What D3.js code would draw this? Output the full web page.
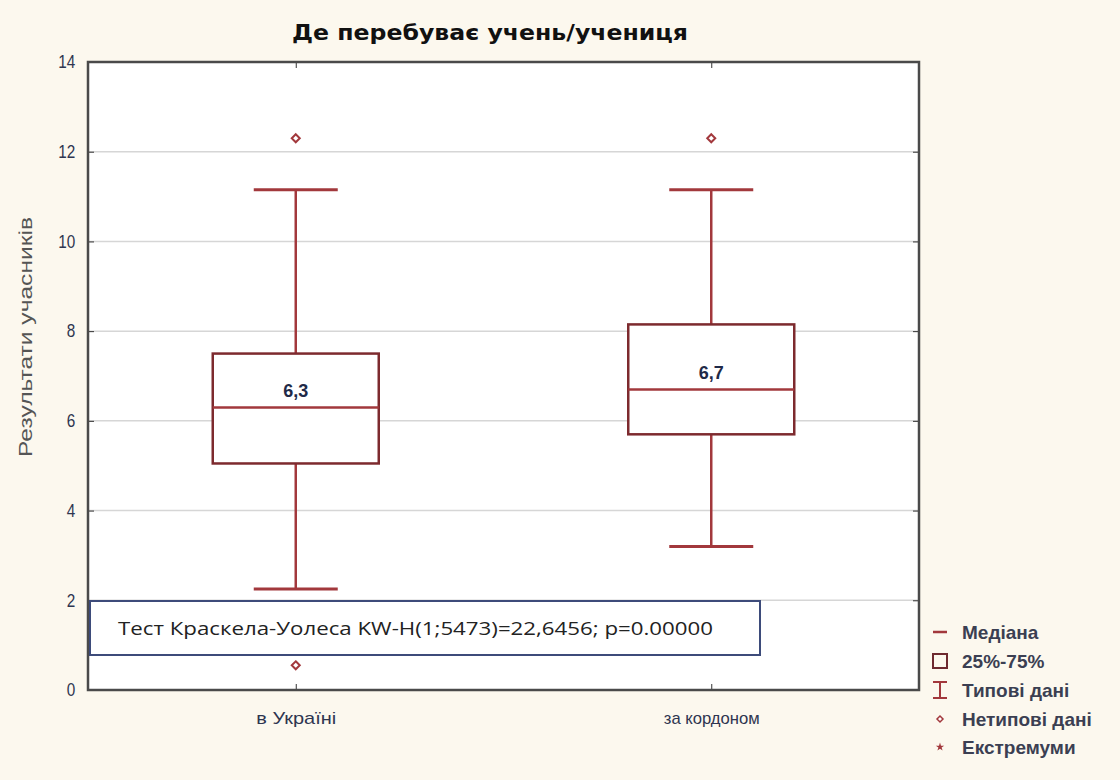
<!DOCTYPE html>
<meta charset="utf-8">
<style>
	body { margin: 0; background: #fcf8ee; }
	svg { display: block; }
</style>
<svg width="1120" height="780"></svg>
<script src="https://d3js.org/d3.v7.min.js"></script>
<script>
	// дані
	var categories = ['в Україні', 'за кордоном']
	var medians = [6.3, 6.7]
	var q1 = [5.05, 5.7]
	var q3 = [7.5, 8.15]
	var whiskLow = [2.25, 3.2]
	var whiskHigh = [11.15, 11.15]
	var outliers = [[12.3, 0.55], [12.3]]
	var yTicks = [0, 2, 4, 6, 8, 10, 12, 14]
	var legendItems = ['Медіана', '25%-75%', ' Типові дані', 'Нетипові дані', 'Екстремуми']

	var svg = d3.select('svg'),
		margin = { top: 62, right: 201, bottom: 90, left: 88 },
		width = +svg.attr('width') - margin.left - margin.right,
		height = +svg.attr('height') - margin.top - margin.bottom

	svg.append('rect').attr('width', 1120).attr('height', 780).attr('fill', '#fcf8ee')

	var g = svg.append('g').attr('transform', 'translate(' + margin.left + ',' + margin.top + ')')

	var x = d3.scalePoint().domain(categories).range([0, width]).padding(0.5),
		y = d3.scaleLinear().domain([0, 14]).range([height, 0])

	g.append('rect').attr('width', width).attr('height', height).attr('fill', '#fff')

	// сітка
	g.selectAll('.grid').data(yTicks.slice(1, -1)).enter().append('line')
		.attr('x1', 0).attr('x2', width)
		.attr('y1', d => y(d)).attr('y2', d => y(d))
		.attr('stroke', '#d6d6d6').attr('stroke-width', 1.5)

	// осі
	var yAxis = g.append('g').call(d3.axisLeft(y).tickValues(yTicks).tickSize(-6).tickPadding(13).tickFormat(d3.format('d')))
	yAxis.select('.domain').remove()
	yAxis.selectAll('.tick line').attr('stroke', '#333')
	yAxis.selectAll('.tick text').style('font-family', '"Liberation Sans", sans-serif')
		.style('font-size', '18px').attr('fill', '#2e3550')
		.attr('transform', 'scale(0.85,1)').attr('x', -15)
	var yAxisR = g.append('g').attr('transform', 'translate(' + width + ',0)')
		.call(d3.axisRight(y).tickValues(yTicks).tickSize(-6).tickFormat(''))
	yAxisR.select('.domain').remove()
	yAxisR.selectAll('.tick line').attr('stroke', '#333')

	var xAxis = g.append('g').attr('transform', 'translate(0,' + height + ')')
		.call(d3.axisBottom(x).tickSize(-6).tickPadding(22))
	xAxis.select('.domain').remove()
	xAxis.selectAll('.tick line').attr('stroke', '#333')
	xAxis.selectAll('.tick text').style('font-family', '"Liberation Sans", sans-serif')
		.style('font-size', '17px').attr('fill', '#2e3550')
		.attr('textLength', (d, i) => [80, 96][i]).attr('lengthAdjust', 'spacingAndGlyphs')
	var xAxisT = g.append('g').call(d3.axisTop(x).tickSize(-6).tickFormat(''))
	xAxisT.select('.domain').remove()
	xAxisT.selectAll('.tick line').attr('stroke', '#333')

	g.append('rect').attr('width', width).attr('height', height)
		.attr('fill', 'none').attr('stroke', '#4a4a4a').attr('stroke-width', 2.5)

	// бокси
	var boxW = 166, capW = 84
	var boxes = g.selectAll('.box').data(categories).enter().append('g')
		.attr('transform', d => 'translate(' + x(d) + ',0)')

	boxes.append('line').attr('x1', 0).attr('x2', 0)
		.attr('y1', (d, i) => y(whiskHigh[i])).attr('y2', (d, i) => y(q3[i]))
		.attr('stroke', '#a2383c').attr('stroke-width', 2.5)
	boxes.append('line').attr('x1', 0).attr('x2', 0)
		.attr('y1', (d, i) => y(q1[i])).attr('y2', (d, i) => y(whiskLow[i]))
		.attr('stroke', '#a2383c').attr('stroke-width', 2.5)
	boxes.append('line').attr('x1', -capW / 2).attr('x2', capW / 2)
		.attr('y1', (d, i) => y(whiskHigh[i])).attr('y2', (d, i) => y(whiskHigh[i]))
		.attr('stroke', '#a2383c').attr('stroke-width', 3)
	boxes.append('line').attr('x1', -capW / 2).attr('x2', capW / 2)
		.attr('y1', (d, i) => y(whiskLow[i])).attr('y2', (d, i) => y(whiskLow[i]))
		.attr('stroke', '#a2383c').attr('stroke-width', 3)
	boxes.append('rect')
		.attr('x', -boxW / 2).attr('width', boxW)
		.attr('y', (d, i) => y(q3[i])).attr('height', (d, i) => y(q1[i]) - y(q3[i]))
		.attr('fill', '#fff').attr('stroke', '#7d2a2e').attr('stroke-width', 2.5)
	boxes.append('line').attr('x1', -boxW / 2).attr('x2', boxW / 2)
		.attr('y1', (d, i) => y(medians[i])).attr('y2', (d, i) => y(medians[i]))
		.attr('stroke', '#a2383c').attr('stroke-width', 2.5)
	boxes.append('text')
		.attr('y', (d, i) => y(medians[i]) - 10)
		.attr('text-anchor', 'middle')
		.style('font-family', '"Liberation Sans", sans-serif')
		.style('font-size', '18px').style('font-weight', 'bold').attr('fill', '#1f2a48')
		.text((d, i) => d3.format('.1f')(medians[i]).replace('.', ','))

	// нетипові дані
	var outData = []
	outliers.forEach((arr, i) => arr.forEach(v => outData.push({ c: categories[i], v: v })))
	g.selectAll('.out').data(outData).enter().append('path')
		.attr('transform', d => 'translate(' + x(d.c) + ',' + y(d.v) + ')')
		.attr('d', 'M0,-4L4,0L0,4L-4,0Z')
		.attr('fill', '#fff').attr('stroke', '#a2383c').attr('stroke-width', 2)

	// текст тесту
	svg.append('rect').attr('x', 90).attr('y', 601).attr('width', 670).attr('height', 54)
		.attr('fill', '#fff').attr('stroke', '#3d4b7a').attr('stroke-width', 2)
	svg.append('text').attr('x', 118).attr('y', 635)
		.style('font-family', '"Open Sans", sans-serif').style('font-size', '19px').attr('fill', '#222')
		.attr('textLength', 595).attr('lengthAdjust', 'spacingAndGlyphs')
		.text('Тест Краскела-Уолеса KW-H(1;5473)=22,6456; p=0.00000')

	// заголовок
	svg.append('text').attr('x', 490).attr('y', 40).attr('text-anchor', 'middle')
		.style('font-family', '"DejaVu Sans", sans-serif').style('font-size', '21px').style('font-weight', 'bold')
		.attr('fill', '#111').attr('textLength', 396).attr('lengthAdjust', 'spacingAndGlyphs')
		.text('Де перебуває учень/учениця')

	svg.append('text').attr('transform', 'translate(32,337) rotate(-90)').attr('text-anchor', 'middle')
		.style('font-family', '"Liberation Sans", sans-serif').style('font-size', '18px').attr('fill', '#555')
		.attr('textLength', 240).attr('lengthAdjust', 'spacingAndGlyphs')
		.text('Результати учасників')

	// легенда
	var leg = svg.append('g').attr('transform', 'translate(940,0)')
	var legY = [632, 661, 690, 719, 747]
	leg.selectAll('text').data(legendItems).enter().append('text')
		.attr('x', 22).attr('y', (d, i) => legY[i] + 7)
		.style('font-family', '"Liberation Sans", sans-serif').style('font-size', '19px').style('font-weight', 'bold')
		.attr('fill', '#3b3f52').text(d => d)
	var red = '#a2383c'
	leg.append('line').attr('x1', -7).attr('x2', 7).attr('y1', legY[0]).attr('y2', legY[0]).attr('stroke', red).attr('stroke-width', 2.5)
	leg.append('rect').attr('x', -7).attr('y', legY[1] - 7).attr('width', 14).attr('height', 14)
		.attr('fill', 'none').attr('stroke', '#6e2a30').attr('stroke-width', 2)
	leg.append('path').attr('d', 'M-7,' + (legY[2] - 8) + 'H7M0,' + (legY[2] - 8) + 'V' + (legY[2] + 8) + 'M-7,' + (legY[2] + 8) + 'H7')
		.attr('stroke', red).attr('stroke-width', 2).attr('fill', 'none')
	leg.append('path').attr('transform', 'translate(0,' + legY[3] + ')').attr('d', 'M0,-3L3,0L0,3L-3,0Z')
		.attr('fill', '#fff').attr('stroke', red).attr('stroke-width', 1.5)
	leg.append('path').attr('transform', 'translate(0,' + legY[4] + ')').attr('d', d3.symbol(d3.symbolStar, 22)())
		.attr('fill', red)
</script>
